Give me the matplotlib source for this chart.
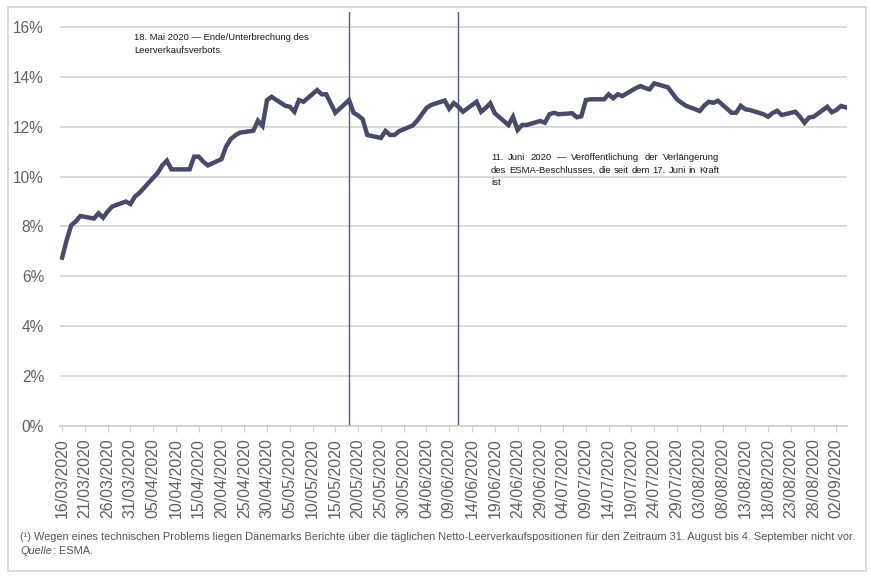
import pandas as pd
import matplotlib.pyplot as plt
import matplotlib.dates as mdates
from matplotlib.patches import Rectangle
from matplotlib.ticker import FuncFormatter

# -----------------------------
# Data (business days, % of net short positions)
# -----------------------------
start_date = "2020-03-16"
end_date = "2020-09-04"
share_pct = [
    6.75, 7.45, 8.05, 8.20, 8.42,      # 16/03 - 20/03
    8.32, 8.53, 8.35, 8.60, 8.80,      # 23/03 - 27/03
    9.00, 8.90, 9.20, 9.35, 9.55,      # 30/03 - 03/04
    10.15, 10.45, 10.64, 10.29, 10.29, # 06/04 - 10/04
    10.29, 10.80, 10.80, 10.60, 10.45, # 13/04 - 17/04
    10.70, 11.20, 11.50, 11.65, 11.76, # 20/04 - 24/04
    11.84, 12.24, 12.03, 13.07, 13.20, # 27/04 - 01/05
    12.84, 12.80, 12.60, 13.07, 13.00, # 04/05 - 08/05
    13.47, 13.30, 13.30, 12.93, 12.56, # 11/05 - 15/05
    13.07, 12.56, 12.45, 12.30, 11.67, # 18/05 - 22/05
    11.55, 11.83, 11.67, 11.67, 11.82, # 25/05 - 29/05
    12.05, 12.25, 12.50, 12.75, 12.87, # 01/06 - 05/06
    13.05, 12.72, 12.95, 12.80, 12.60, # 08/06 - 12/06
    13.00, 12.60, 12.75, 12.94, 12.54, # 15/06 - 19/06
    12.07, 12.40, 11.87, 12.07, 12.07, # 22/06 - 26/06
    12.23, 12.16, 12.50, 12.56, 12.50, # 29/06 - 03/07
    12.54, 12.38, 12.42, 13.07, 13.10, # 06/07 - 10/07
    13.10, 13.30, 13.14, 13.30, 13.23, # 13/07 - 17/07
    13.55, 13.63, 13.55, 13.50, 13.74, # 20/07 - 24/07
    13.58, 13.34, 13.10, 12.96, 12.84, # 27/07 - 31/07
    12.63, 12.85, 13.00, 12.96, 13.04, # 03/08 - 07/08
    12.56, 12.56, 12.84, 12.70, 12.67, # 10/08 - 14/08
    12.50, 12.40, 12.55, 12.64, 12.47, # 17/08 - 21/08
    12.60, 12.40, 12.16, 12.37, 12.40, # 24/08 - 28/08
    12.80, 12.58, 12.67, 12.83, 12.78, # 31/08 - 04/09
]
event_dates = ["2020-05-18", "2020-06-11"]
note_may = "18. Mai 2020 — Ende/Unterbrechung des\nLeerverkaufsverbots"
note_june = ["11. Juni 2020 — Veröffentlichung der Verlängerung",
             "des ESMA-Beschlusses, die seit dem 17. Juni in Kraft",
             "ist"]
y_ticks = [0, 2, 4, 6, 8, 10, 12, 14, 16]
footnote = ("(¹) Wegen eines technischen Problems liegen Dänemarks Berichte über die "
            "täglichen Netto-Leerverkaufspositionen für den Zeitraum 31. August bis "
            "4. September nicht vor.")

dates = pd.bdate_range(start_date, end_date)
df = pd.DataFrame({"date": dates, "share": share_pct})

# -----------------------------
# Plot
# -----------------------------
plt.rcParams["font.family"] = ["Liberation Sans", "DejaVu Sans"]
W, H = 871, 579
fig = plt.figure(figsize=(W / 100, H / 100), dpi=100)
ax = fig.add_axes([60 / W, 1 - 426 / H, (847 - 60) / W, (426 - 12) / H])

ax.plot(df["date"], df["share"], color="#474a68", lw=3.2, solid_joinstyle="miter", zorder=3)

for d in event_dates:
    ax.axvline(pd.Timestamp(d), color="#4d5f8c", lw=1.0, zorder=2)

ax.set_ylim(0, 16.6)
ax.set_yticks(y_ticks)
ax.yaxis.set_major_formatter(FuncFormatter(lambda v, p: f"{v:.0f}%"))
ax.set_xlim(pd.Timestamp(start_date) - pd.Timedelta(hours=11),
            pd.Timestamp(end_date) + pd.Timedelta(hours=8))
ticks = pd.date_range(start_date, "2020-09-02", freq="5D")
ax.set_xticks(ticks)
ax.xaxis.set_major_formatter(mdates.DateFormatter("%d/%m/%Y"))

ax.grid(axis="y", color="#dad6d3", lw=1.3)
ax.set_axisbelow(True)
for s in ["top", "right", "left"]:
    ax.spines[s].set_visible(False)
ax.spines["bottom"].set_color("#d0d0d0")
ax.spines["bottom"].set_linewidth(1.3)
ax.tick_params(axis="y", length=0, pad=11.5, labelsize=11.2, labelcolor="#606060")
ax.tick_params(axis="x", length=4, color="#d0d0d0", pad=5, labelsize=11.5,
               labelcolor="#606060", labelrotation=90)

fig.text(134 / W, 1 - 33.5 / H, note_may, fontsize=6.8, color="#1a1a1a",
         va="top", ha="left", linespacing=1.45)

# justified block for the June note
renderer = fig.canvas.get_renderer()
june_size = 6.8
x0, width, y0, step = 491, 228, 153, 12.5
for i, line in enumerate(note_june):
    y = 1 - (y0 + i * step) / H
    words = line.split()
    if i == len(note_june) - 1 or len(words) == 1:
        fig.text(x0 / W, y, line, fontsize=june_size, color="#1a1a1a", va="top")
        continue
    items = [fig.text(0, y, w, fontsize=june_size, color="#1a1a1a", va="top") for w in words]
    widths = [t.get_window_extent(renderer).width for t in items]
    gap = max((width - sum(widths)) / (len(words) - 1), 2.6)
    x = x0
    for t, w in zip(items, widths):
        t.set_x(x / W)
        x += w + gap

fs = 7.9
fig.text(20 / W, 1 - 532 / H, footnote, fontsize=fs, color="#555555", va="top")
fig.text(20 / W, 1 - 546 / H, "Quelle", fontsize=fs, color="#555555", va="top",
         style="italic")
fig.text(49.5 / W, 1 - 546 / H, " : ESMA.", fontsize=fs, color="#555555", va="top")

fig.patches.append(Rectangle((8 / W, 1 - 571 / H), (866 - 8) / W, (571 - 7) / H,
                             transform=fig.transFigure, fill=False,
                             edgecolor="#d4d4d4", lw=1.2))

fig.savefig("out.png", dpi=100)
